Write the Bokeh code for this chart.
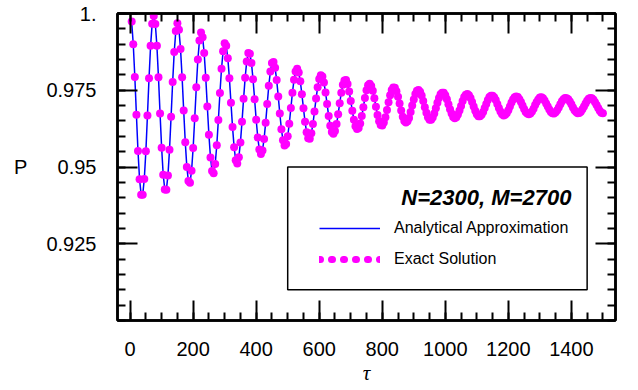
from bokeh.plotting import figure
from bokeh.models import (LinearAxis, FixedTicker, Range1d, Legend, LegendItem,
                          Label, BoxAnnotation)
from bokeh.embed import file_html
from bokeh.resources import INLINE

# ---------------- data ----------------
tau = list(range(5, 1501, 5))
p_exact = [
    0.9974, 0.9900, 0.9793, 0.9670, 0.9552, 0.9460, 0.9410, 0.9410, 0.9461, 0.9551, 0.9668, 0.9789, 0.9895, 0.9967, 0.9992,
    0.9966, 0.9895, 0.9792, 0.9674, 0.9563, 0.9475, 0.9427, 0.9426, 0.9472, 0.9556, 0.9664, 0.9777, 0.9875, 0.9943, 0.9968,
    0.9947, 0.9884, 0.9792, 0.9684, 0.9581, 0.9500, 0.9454, 0.9449, 0.9488, 0.9562, 0.9659, 0.9760, 0.9850, 0.9912, 0.9938,
    0.9923, 0.9871, 0.9791, 0.9697, 0.9605, 0.9531, 0.9487, 0.9480, 0.9510, 0.9571, 0.9653, 0.9741, 0.9820, 0.9877, 0.9903,
    0.9895, 0.9854, 0.9789, 0.9709, 0.9630, 0.9564, 0.9522, 0.9511, 0.9532, 0.9580, 0.9647, 0.9722, 0.9791, 0.9844, 0.9871,
    0.9869, 0.9839, 0.9786, 0.9721, 0.9654, 0.9596, 0.9557, 0.9542, 0.9554, 0.9591, 0.9644, 0.9705, 0.9765, 0.9811, 0.9839,
    0.9842, 0.9823, 0.9783, 0.9730, 0.9674, 0.9623, 0.9587, 0.9570, 0.9575, 0.9600, 0.9641, 0.9692, 0.9742, 0.9784, 0.9811,
    0.9820, 0.9808, 0.9779, 0.9737, 0.9691, 0.9647, 0.9613, 0.9594, 0.9592, 0.9610, 0.9640, 0.9681, 0.9723, 0.9760, 0.9787,
    0.9799, 0.9795, 0.9775, 0.9743, 0.9705, 0.9666, 0.9634, 0.9614, 0.9608, 0.9617, 0.9640, 0.9672, 0.9708, 0.9742, 0.9768,
    0.9782, 0.9783, 0.9770, 0.9746, 0.9715, 0.9683, 0.9654, 0.9633, 0.9624, 0.9627, 0.9642, 0.9666, 0.9695, 0.9725, 0.9750,
    0.9766, 0.9771, 0.9764, 0.9748, 0.9724, 0.9696, 0.9669, 0.9649, 0.9637, 0.9635, 0.9645, 0.9662, 0.9686, 0.9711, 0.9734,
    0.9751, 0.9759, 0.9758, 0.9747, 0.9729, 0.9707, 0.9684, 0.9664, 0.9650, 0.9645, 0.9649, 0.9660, 0.9679, 0.9700, 0.9720,
    0.9738, 0.9748, 0.9751, 0.9745, 0.9733, 0.9715, 0.9695, 0.9677, 0.9662, 0.9654, 0.9654, 0.9661, 0.9674, 0.9691, 0.9709,
    0.9725, 0.9737, 0.9742, 0.9742, 0.9734, 0.9721, 0.9704, 0.9688, 0.9674, 0.9663, 0.9659, 0.9662, 0.9671, 0.9684, 0.9699,
    0.9715, 0.9728, 0.9735, 0.9738, 0.9734, 0.9725, 0.9712, 0.9697, 0.9683, 0.9672, 0.9665, 0.9665, 0.9670, 0.9679, 0.9692,
    0.9705, 0.9718, 0.9728, 0.9732, 0.9732, 0.9727, 0.9718, 0.9705, 0.9692, 0.9681, 0.9672, 0.9668, 0.9670, 0.9676, 0.9685,
    0.9697, 0.9710, 0.9720, 0.9727, 0.9730, 0.9728, 0.9721, 0.9712, 0.9700, 0.9689, 0.9679, 0.9674, 0.9672, 0.9674, 0.9681,
    0.9690, 0.9702, 0.9712, 0.9720, 0.9726, 0.9727, 0.9724, 0.9717, 0.9707, 0.9697, 0.9687, 0.9679, 0.9675, 0.9674, 0.9678,
    0.9685, 0.9694, 0.9704, 0.9714, 0.9721, 0.9725, 0.9724, 0.9721, 0.9713, 0.9704, 0.9694, 0.9685, 0.9679, 0.9675, 0.9676,
    0.9680, 0.9688, 0.9697, 0.9707, 0.9716, 0.9722, 0.9725, 0.9724, 0.9719, 0.9711, 0.9702, 0.9692, 0.9683, 0.9677, 0.9675,
]
# the analytical curve lies on the exact points at this resolution
p_approx = list(p_exact)

x_major = [0, 200, 400, 600, 800, 1000, 1200, 1400]
x_minor = list(range(0, 1551, 50))
y_major = [0.925, 0.95, 0.975, 1.0]
y_minor = [round(0.9 + 0.005 * i, 3) for i in range(21)]
y_labels = {1.0: "1."}

title_text = "N=2300, M=2700"
label_line = "Analytical Approximation"
label_dots = "Exact Solution"
x_title = "τ"
y_title = "P"

FONT = "Liberation Sans"
BLUE = "#0000FF"
MAGENTA = "#FF00FF"

# ---------------- figure ----------------
p = figure(width=638, height=390, output_backend="svg", toolbar_location=None,
           x_range=Range1d(-40, 1540), y_range=Range1d(0.9, 1.0),
           min_border_left=117, min_border_right=23, min_border_top=13,
           min_border_bottom=70)
p.background_fill_color = "white"
p.border_fill_color = "white"
p.xgrid.visible = False
p.ygrid.visible = False
p.outline_line_color = "black"
p.outline_line_width = 2.5

xt = FixedTicker(ticks=x_major, minor_ticks=x_minor)
yt = FixedTicker(ticks=y_major, minor_ticks=y_minor)


def style(ax, show_labels):
    ax.axis_line_width = 2.5
    ax.axis_line_color = "black"
    ax.major_tick_in = 20
    ax.major_tick_out = 0
    ax.minor_tick_in = 8
    ax.minor_tick_out = 0
    ax.major_tick_line_width = 2
    ax.minor_tick_line_width = 2
    ax.major_tick_line_color = "black"
    ax.minor_tick_line_color = "black"
    if show_labels:
        ax.major_label_text_font = FONT
        ax.major_label_text_font_size = "20px"
        ax.major_label_text_color = "black"
        ax.major_label_standoff = 21
    else:
        ax.major_label_text_font_size = "0px"
        ax.major_label_text_alpha = 0
        ax.major_label_standoff = 0


xa = p.xaxis[0]
ya = p.yaxis[0]
xa.ticker = xt
ya.ticker = yt
ya.major_label_overrides = y_labels
style(xa, True)
style(ya, True)

xa.axis_label = x_title
xa.axis_label_text_font = "Liberation Serif"
xa.axis_label_text_font_style = "italic"
xa.axis_label_text_font_size = "21px"
xa.axis_label_text_color = "black"
xa.axis_label_standoff = 2

ya.axis_label = y_title
ya.axis_label_text_font = FONT
ya.axis_label_text_font_style = "normal"
ya.axis_label_text_font_size = "20px"
ya.axis_label_text_color = "black"
ya.axis_label_standoff = 16
if "axis_label_orientation" in ya.properties():
    ya.axis_label_orientation = "horizontal"

top_ax = LinearAxis(ticker=xt)
right_ax = LinearAxis(ticker=yt)
style(top_ax, False)
style(right_ax, False)
p.add_layout(top_ax, "above")
p.add_layout(right_ax, "right")

# ---------------- series ----------------
line_r = p.line(tau, p_approx, line_color=BLUE, line_width=1.5)
dot_r = p.scatter(tau, p_exact, size=8, fill_color=MAGENTA, line_color=None)
# hidden renderer used only to draw the dotted legend key
key_r = p.line(tau, p_exact, line_color=MAGENTA, line_width=7,
               line_cap="round", line_dash="1 11", visible=False)

# ---------------- legend ----------------
box = BoxAnnotation(left=500, right=1450, bottom=0.91, top=0.95,
                    fill_alpha=0, line_color="black", line_alpha=1.0,
                    line_width=1.5)
p.add_layout(box)

p.add_layout(Label(x=1400, y=0.94, text=title_text, text_align="right",
                   text_baseline="middle", text_font=FONT,
                   text_font_style="bold italic", text_font_size="22px",
                   text_color="black"))

legend = Legend(items=[LegendItem(label=label_line, renderers=[line_r]),
                       LegendItem(label=label_dots, renderers=[key_r])],
                location=(202, 51), glyph_width=61, glyph_height=20,
                label_height=20, label_standoff=14, spacing=11, padding=0,
                margin=0, border_line_alpha=0, background_fill_alpha=0,
                inactive_fill_alpha=0,
                label_text_font=FONT, label_text_font_size="16px",
                label_text_color="black")
p.add_layout(legend)

open("out.html", "w").write(file_html(p, INLINE))
